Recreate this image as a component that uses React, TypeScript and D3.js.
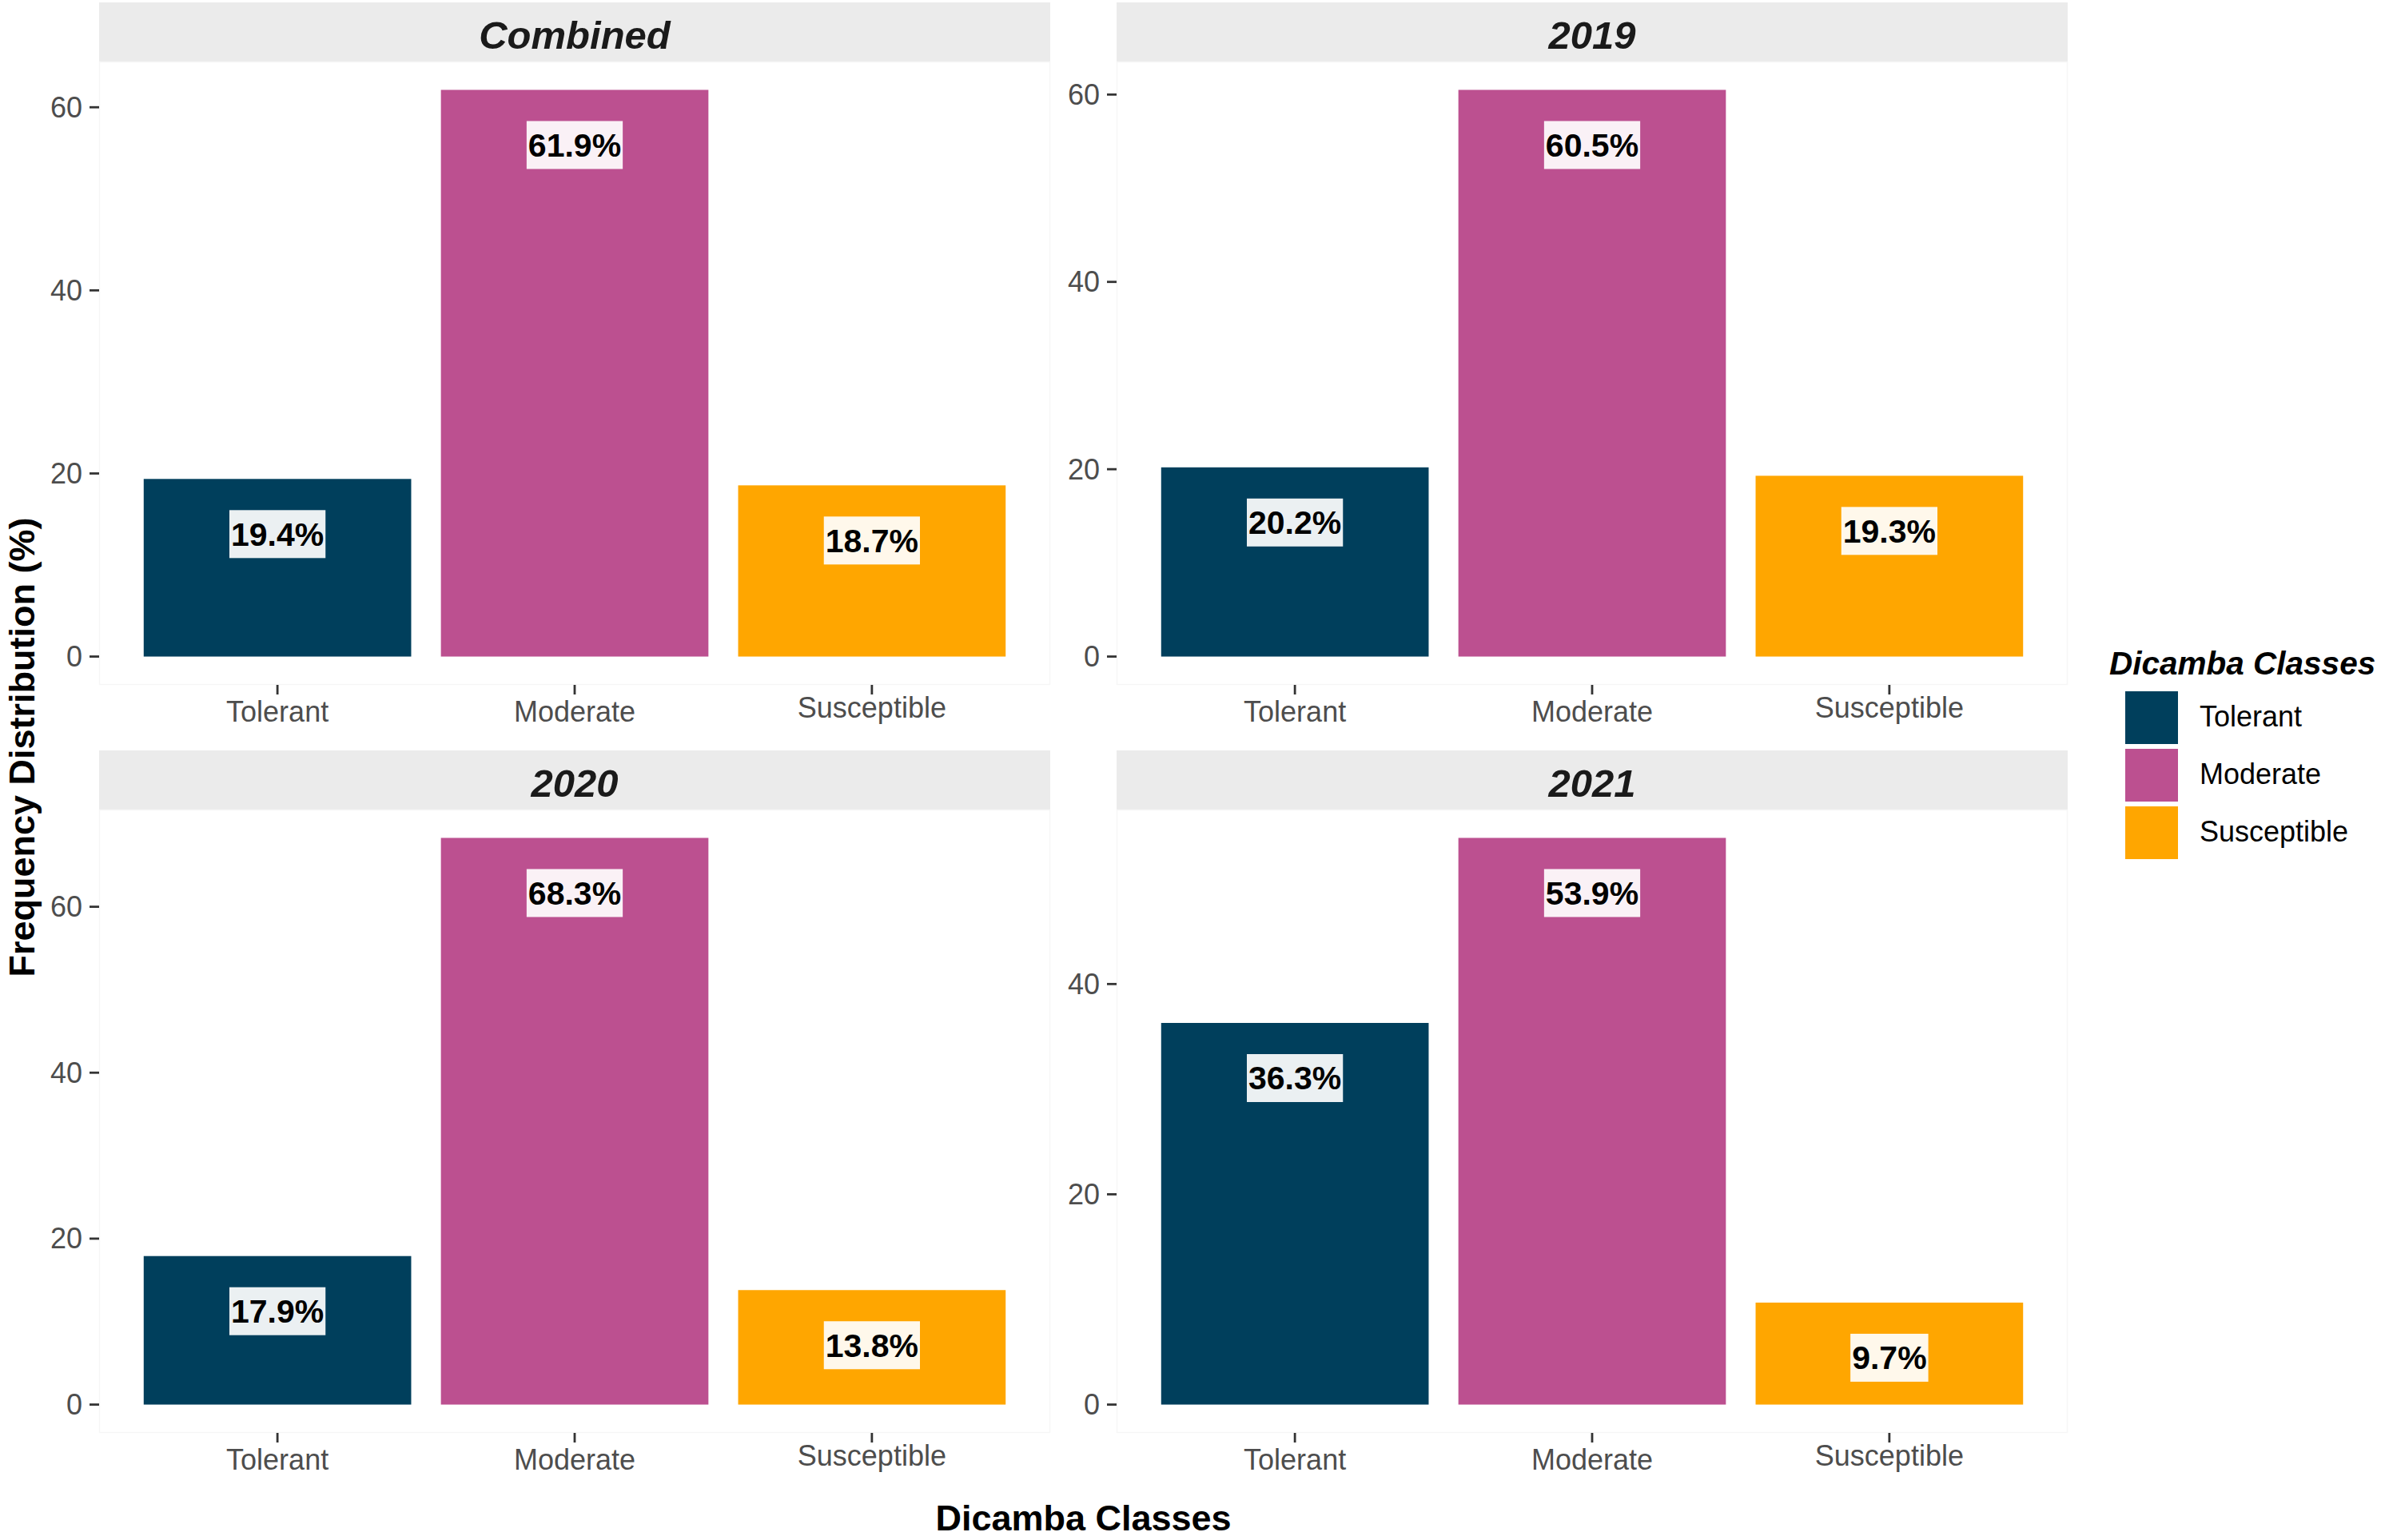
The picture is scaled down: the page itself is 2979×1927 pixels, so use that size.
import React, { useEffect, useRef } from 'react';
import * as d3 from 'd3';

// categories and values
const classes = ['Tolerant', 'Moderate', 'Susceptible'];
const classColors = ['#003f5c', '#bc5090', '#ffa600'];
const facets = ['Combined', '2019', '2020', '2021'];
const combinedValues = [19.4, 61.9, 18.7];
const values2019 = [20.2, 60.5, 19.3];
const values2020 = [17.9, 68.3, 13.8];
const values2021 = [36.3, 53.9, 9.7];
const facetValues = [combinedValues, values2019, values2020, values2021];
const yTickStep = 20;

const xTitle = 'Dicamba Classes';
const yTitle = 'Frequency Distribution (%)';
const legendTitle = 'Dicamba Classes';

const FONT = '"Liberation Sans", Arial, Helvetica, sans-serif';

const App: React.FC = () => {
  const svgRef = useRef<SVGSVGElement>(null);

  useEffect(() => {
    document.body.style.margin = '0';
    const width = 2979;
    const height = 1927;

    // facet grid
    const colX = [124, 1397];
    const rowTop = [3, 939];
    const panelW = 1190;
    const stripH = 74;
    const panelH = 780;

    const svg = d3.select(svgRef.current)
      .attr('width', width)
      .attr('height', height)
      .style('font-family', FONT);
    svg.selectAll('*').remove();

    svg.append('rect')
      .attr('width', width)
      .attr('height', height)
      .attr('fill', '#ffffff');

    facets.forEach((name, i) => {
      const vals = facetValues[i];
      const x0 = colX[i % 2];
      const top = rowTop[Math.floor(i / 2)];
      const pTop = top + stripH;
      const pBottom = pTop + panelH;
      const g = svg.append('g');

      // strip
      g.append('rect')
        .attr('x', x0).attr('y', top)
        .attr('width', panelW).attr('height', stripH)
        .attr('fill', '#ebebeb');
      g.append('text')
        .attr('x', x0 + panelW / 2)
        .attr('y', top + 58)
        .attr('text-anchor', 'middle')
        .attr('font-size', 49)
        .attr('font-weight', 'bold')
        .attr('font-style', 'italic')
        .attr('fill', '#1a1a1a')
        .text(name);

      // panel
      g.append('rect')
        .attr('x', x0 + 0.5).attr('y', pTop + 0.5)
        .attr('width', panelW - 1).attr('height', panelH - 1)
        .attr('fill', '#ffffff')
        .attr('stroke', '#f6f6f6')
        .attr('stroke-width', 1.5);

      const x = d3.scaleBand<string>()
        .domain(classes)
        .range([x0, x0 + panelW])
        .paddingInner(0.1)
        .paddingOuter(0.15);

      const vmax = d3.max(vals) as number;
      const y = d3.scaleLinear()
        .domain([-0.05 * vmax, 1.05 * vmax])
        .range([pBottom, pTop]);

      // bars
      g.selectAll('rect.bar')
        .data(vals)
        .enter().append('rect')
        .attr('class', 'bar')
        .attr('x', (_d, j) => x(classes[j]) as number)
        .attr('y', d => y(d))
        .attr('width', x.bandwidth())
        .attr('height', d => y(0) - y(d))
        .attr('fill', (_d, j) => classColors[j]);

      // y axis
      const yTicks = d3.range(0, 1.05 * vmax, yTickStep);
      yTicks.forEach(t => {
        g.append('line')
          .attr('x1', x0 - 12).attr('x2', x0)
          .attr('y1', y(t)).attr('y2', y(t))
          .attr('stroke', '#333333')
          .attr('stroke-width', 2.8);
        g.append('text')
          .attr('x', x0 - 21)
          .attr('y', y(t) + 12.5)
          .attr('text-anchor', 'end')
          .attr('font-size', 36)
          .attr('fill', '#4d4d4d')
          .text(String(t));
      });

      // x axis
      classes.forEach(c => {
        const cx = (x(c) as number) + x.bandwidth() / 2;
        g.append('line')
          .attr('x1', cx).attr('x2', cx)
          .attr('y1', pBottom).attr('y2', pBottom + 12)
          .attr('stroke', '#333333')
          .attr('stroke-width', 2.8);
        // labels with a descender sit a little higher, as in the original
        const drop = /[gjpqy]/.test(c) ? 5 : 0;
        g.append('text')
          .attr('x', cx)
          .attr('y', pBottom + 46 - drop)
          .attr('text-anchor', 'middle')
          .attr('font-size', 36)
          .attr('fill', '#4d4d4d')
          .text(c);
      });

      // value labels
      vals.forEach((v, j) => {
        const cx = (x(classes[j]) as number) + x.bandwidth() / 2;
        const cy = y(v) + 69;
        const lg = g.append('g');
        const box = lg.append('rect');
        const txt = lg.append('text')
          .attr('x', cx)
          .attr('y', cy + 14.5)
          .attr('text-anchor', 'middle')
          .attr('font-size', 41)
          .attr('font-weight', 'bold')
          .attr('fill', '#000000')
          .text(`${v.toFixed(1)}%`);
        const w = (txt.node() as SVGTextElement).getComputedTextLength();
        box.attr('x', cx - w / 2 - 2)
          .attr('y', cy - 30)
          .attr('width', w + 4)
          .attr('height', 60)
          .attr('fill', '#ffffff')
          .attr('fill-opacity', 0.92);
      });
    });

    // axis titles
    svg.append('text')
      .attr('x', (colX[0] + colX[1] + panelW) / 2)
      .attr('y', 1915)
      .attr('text-anchor', 'middle')
      .attr('font-size', 45)
      .attr('font-weight', 'bold')
      .attr('fill', '#000000')
      .text(xTitle);

    svg.append('text')
      .attr('transform', `translate(43, ${(rowTop[0] + stripH + rowTop[1] + stripH + panelH) / 2}) rotate(-90)`)
      .attr('text-anchor', 'middle')
      .attr('font-size', 45)
      .attr('font-weight', 'bold')
      .attr('fill', '#000000')
      .text(yTitle);

    // legend
    const legend = svg.append('g');
    legend.append('text')
      .attr('x', 2639)
      .attr('y', 844)
      .attr('font-size', 40.5)
      .attr('font-weight', 'bold')
      .attr('font-style', 'italic')
      .attr('fill', '#000000')
      .text(legendTitle);

    const keyY = d3.scaleBand<string>()
      .domain(classes)
      .range([862, 1078])
      .paddingInner(0);

    classes.forEach((c, j) => {
      const ky = keyY(c) as number;
      legend.append('rect')
        .attr('x', 2659)
        .attr('y', ky + 3)
        .attr('width', 66)
        .attr('height', 66)
        .attr('fill', classColors[j]);
      legend.append('text')
        .attr('x', 2752)
        .attr('y', ky + 3 + 33 + 11)
        .attr('font-size', 36)
        .attr('fill', '#000000')
        .text(c);
    });
  }, []);

  return (
    <svg ref={svgRef} style={{ display: 'block' }}></svg>
  );
};

export default App;
